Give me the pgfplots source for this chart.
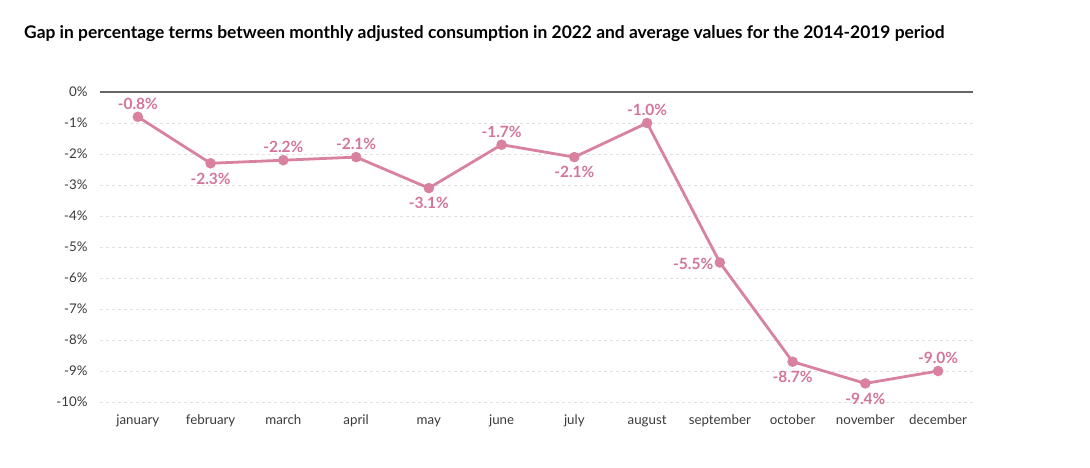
\documentclass[border=0pt]{standalone}
\usepackage{pgfplots}
\pgfplotsset{compat=1.18}
\usepackage{fontspec}
\setmainfont{Lato}
\definecolor{pinkline}{HTML}{D9829F}
\definecolor{pinktext}{HTML}{D4749A}
\definecolor{ticktext}{HTML}{3A3A3A}
\begin{document}
\begin{tikzpicture}[x=1pt,y=1pt]
\useasboundingbox (0,0) rectangle (1090,467);
\node[anchor=west,font=\fontsize{17.4}{19}\selectfont\bfseries,text=black,inner sep=0] at (24,433) {Gap in percentage terms between monthly adjusted consumption in 2022 and average values for the 2014-2019 period};
\begin{axis}[
  at={(100pt,65pt)}, anchor=south west,
  scale only axis, width=873pt, height=310pt,
  xmin=-0.52, xmax=11.48, ymin=-10, ymax=0,
  axis line style={draw=none},
  tick style={draw=none},
  xtick={0,...,11},
  xticklabels={january,february,march,april,may,june,july,august,september,october,november,december},
  ytick={-10,...,-1},
  extra y ticks={0},
  extra y tick style={grid style={solid,draw=black!60,line width=1.2pt}},
  ymajorgrids,
  grid style={dashed,draw=black!12,line width=0.9pt},
  yticklabel={\pgfmathprintnumber{\tick}\%},
  /pgf/number format/assume math mode=true,
  ticklabel style={font=\fontsize{13.3}{14}\selectfont,text=ticktext},
  yticklabel style={xshift=-9pt},
  xticklabel style={yshift=-11pt,text height=1.6ex,text depth=0.3ex},
  clip=false,
  nodes near coords={\pgfmathprintnumber[fixed,fixed zerofill,precision=1]{\pgfplotspointmeta}\%},
  every node near coord/.append style={font=\fontsize{15.5}{16}\selectfont\bfseries,text=pinktext},
]
\addplot[pinkline,line width=2.8pt,mark=*,mark size=3.8pt,mark options={fill=pinkline,draw=pinkline},nodes near coords={}] coordinates {
(0,-0.8) (1,-2.3) (2,-2.2) (3,-2.1) (4,-3.1) (5,-1.7) (6,-2.1) (7,-1.0) (8,-5.5) (9,-8.7) (10,-9.4) (11,-9.0)};
% labels above
\addplot[draw=none,mark=none,forget plot,every node near coord/.append style={anchor=south,yshift=4pt}] coordinates {
(0,-0.8) (2,-2.2) (3,-2.1) (5,-1.7) (7,-1.0) (11,-9.0)};
% labels below
\addplot[draw=none,mark=none,forget plot,every node near coord/.append style={anchor=north,yshift=-6pt}] coordinates {
(1,-2.3) (4,-3.1) (6,-2.1) (9,-8.7) (10,-9.4)};
% label left
\addplot[draw=none,mark=none,forget plot,every node near coord/.append style={anchor=east,xshift=-3pt,yshift=-1pt}] coordinates {
(8,-5.5)};
\end{axis}
\end{tikzpicture}
\end{document}
